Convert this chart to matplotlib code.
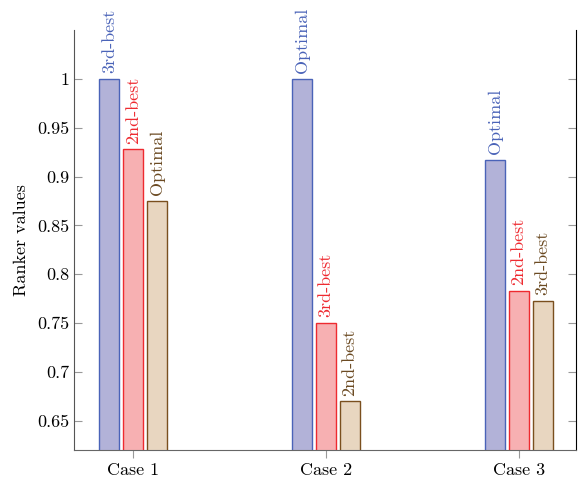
import numpy as np
import matplotlib
matplotlib.use("Agg")
import matplotlib.pyplot as plt

plt.rcParams['font.family'] = ['cmr10', 'DejaVu Serif']
plt.rcParams['axes.formatter.use_mathtext'] = True

cases = ['Case 1', 'Case 2', 'Case 3']
series_a = [1.0, 1.0, 0.917]
series_b = [0.928, 0.75, 0.783]
series_c = [0.875, 0.67, 0.773]
labels_a = ['3rd-best', 'Optimal', 'Optimal']
labels_b = ['2nd-best', '3rd-best', '2nd-best']
labels_c = ['Optimal', '2nd-best', '3rd-best']

fills = ['#b2b2d8', '#f7b0b2', '#e8d6c0']
edges = ['#4a63b8', '#ee2a30', '#7a4f1e']
txtcols = ['#4a63b8', '#ee2a30', '#6b4a22']
fs = 13

fig = plt.figure(figsize=(5.81, 4.79), dpi=100)
ax = fig.add_axes([74/581, 1-450/479, (576-74)/581, (450-30)/479])

x = np.arange(1, len(cases) + 1)
w = 0.104
step = 0.124
for i, (vals, labs) in enumerate([(series_a, labels_a), (series_b, labels_b), (series_c, labels_c)]):
    pos = x + (i - 1) * step
    ax.bar(pos, vals, width=w, color=fills[i], edgecolor=edges[i], linewidth=1.0, zorder=2)
    for px, v, lab in zip(pos, vals, labs):
        ax.annotate(lab, (px, v), xytext=(0, 4), textcoords='offset points',
                    rotation=90, ha='center', va='bottom', color=txtcols[i], fontsize=fs)

ax.set_xlim(0.694, 3.296)
ax.set_ylim(0.62, 1.05)
ax.set_xticks(x)
ax.set_xticklabels(cases)
ax.set_yticks([0.65, 0.7, 0.75, 0.8, 0.85, 0.9, 0.95, 1.0])
ax.set_yticklabels(['0.65', '0.7', '0.75', '0.8', '0.85', '0.9', '0.95', '1'])
ax.set_ylabel('Ranker values', fontsize=fs, labelpad=6)

ax.spines['top'].set_visible(False)
ax.spines['left'].set_color('#555555')
ax.spines['bottom'].set_color('#666666')
ax.spines['right'].set_color('black')
ax.tick_params(axis='y', direction='in', length=6, color='#999999', right=True, labelsize=fs)
ax.tick_params(axis='x', direction='out', length=6, color='#999999', labelsize=fs, pad=3)

fig.savefig('out.png', dpi=100)
